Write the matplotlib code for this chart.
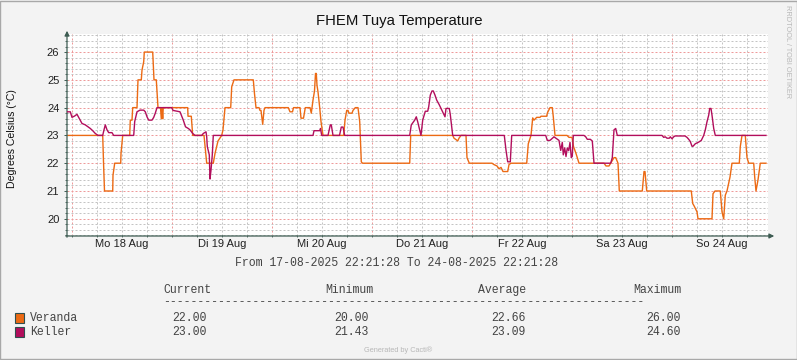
import matplotlib
matplotlib.use("Agg")
import matplotlib.pyplot as plt
from matplotlib.ticker import MultipleLocator
from matplotlib.patches import Rectangle

# time axis: hours since Mo 18 Aug 2025 00:00
veranda_h = [-1.2, 7.37, 7.56, 7.8, 9.77, 9.84, 10.25, 11.69, 11.76, 12.17, 13.85, 13.99, 14.4, 14.57,
             15.6, 15.84, 16.63, 16.8, 17.21, 17.35, 19.37, 19.68, 20.23, 20.64, 21.24, 21.43, 21.6,
             21.77, 21.9, 27.77, 27.84, 28.63, 28.97, 31.68, 32.33, 33.91, 34.32, 35.04, 35.93, 36.24,
             36.72, 38.09, 38.33, 38.88, 43.51, 43.8, 44.16, 44.88, 45.12, 45.36, 45.77, 46.08, 46.32,
             51.91, 52.32, 52.92, 53.16, 54.72, 54.96, 55.56, 55.99, 57.12, 57.43, 57.84, 58.2, 58.44,
             58.63, 58.8, 59.04, 59.45, 59.76, 60.24, 65.21, 65.52, 65.93, 66.24, 66.48, 67.2, 67.44,
             67.99, 68.64, 69.05, 69.43, 69.72, 81.05, 81.19, 81.29, 91.37, 91.68, 92.16, 92.57, 92.88,
             93.36, 94.56, 94.8, 95.35, 100.8, 101.28, 102.0, 102.48, 102.96, 103.44, 104.57, 104.88,
             105.36, 109.13, 109.51, 110.16, 110.57, 110.88, 111.53, 112.32, 112.56, 113.93, 114.07,
             114.72, 115.27, 115.51, 115.92, 118.8, 119.28, 120.0, 120.36, 120.96, 121.68, 127.68,
             128.16, 128.88, 129.29, 130.08, 130.49, 131.04, 131.35, 136.87, 137.28, 137.52, 137.93,
             148.63, 148.97, 149.35, 150.0, 150.24, 153.6, 153.84, 154.32, 155.59, 156.0, 156.41,
             156.79, 157.2, 157.92, 158.4, 160.15, 160.39, 160.8, 161.59, 162.0, 162.41, 163.61,
             163.85, 164.16, 164.64, 165.19, 166.56]
veranda_t = [23, 23, 22.05, 21, 21, 21.57, 22, 22, 22.35, 23, 23, 23.55, 23.55, 24,
             24, 25, 25, 25.35, 25.65, 26, 26, 25, 25, 24, 24, 23.6, 24,
             23.6, 24, 24, 23.69, 23.69, 23, 23, 22, 22, 22.35, 22.8, 23, 23.2,
             24, 24, 24.75, 25, 25, 24.5, 24, 24, 23.9, 23.9, 23.4, 23.9, 24,
             24, 23.85, 23.85, 24, 24, 23.62, 23.62, 24, 24, 23.8, 24.27, 24.6, 25.23,
             25.23, 24.8, 24.57, 24, 23.5, 23, 23, 23.55, 23.9, 23.9, 23.8, 23.8, 23.9,
             24, 24, 23.5, 22.05, 22, 22, 22.6, 23, 23, 22.9, 22.85, 22.8, 22.9,
             23, 23, 22.2, 22, 22, 21.95, 21.9, 21.8, 21.85, 21.7, 21.7, 21.95,
             22, 22, 22.7, 23, 23.63, 23.55, 23.65, 23.65, 23.69, 23.69, 23.8,
             24, 24, 23.67, 23, 23, 22.93, 22.93, 22.6, 22.35, 22, 22,
             21.9, 21.9, 22, 22.2, 22.2, 22, 21, 21, 21.7, 21.7, 21,
             21, 20.55, 20.45, 20.25, 20, 20, 20.9, 21, 21, 20.25, 20,
             20.85, 21, 21.5, 22, 22, 22.6, 23, 23, 22.2, 22, 22,
             21.5, 21, 21.4, 22, 22]

keller_h = [-1.2, -0.41, 0.0, 0.65, 1.2, 1.61, 1.99, 2.4, 3.19, 3.84, 4.39, 4.97, 5.59, 6.24, 7.37,
            7.68, 7.99, 8.4, 8.81, 9.6, 10.0, 14.81, 15.05, 15.6, 16.32, 17.21, 17.59, 18.0, 18.41,
            19.2, 19.61, 19.99, 20.4, 23.93, 24.24, 25.92, 26.4, 26.71, 27.24, 27.91, 28.32, 28.97,
            29.52, 31.13, 31.51, 32.16, 32.33, 32.47, 32.95, 33.12, 33.36, 33.67, 33.91, 57.84, 58.08,
            59.45, 59.64, 59.93, 61.44, 61.99, 62.23, 62.64, 64.2, 64.63, 65.04, 65.45, 81.05, 81.43,
            82.25, 82.63, 82.97, 83.35, 83.76, 84.17, 84.79, 85.37, 85.61, 85.99, 86.4, 86.71, 87.12,
            87.53, 88.15, 88.8, 89.21, 89.52, 89.76, 90.55, 90.79, 91.37, 103.75, 104.16, 104.57,
            105.19, 105.53, 113.69, 114.07, 114.72, 115.68, 116.33, 116.88, 117.29, 117.67, 117.91,
            118.25, 118.56, 118.87, 119.21, 119.52, 119.83, 120.07, 120.31, 122.88, 123.29, 123.67,
            124.39, 124.87, 125.28, 129.29, 129.67, 130.08, 130.49, 130.87, 141.6, 142.01, 142.39,
            142.8, 143.35, 143.59, 144.0, 144.41, 144.72, 147.12, 147.6, 148.01, 148.39, 148.8,
            149.04, 149.59, 150.41, 151.03, 151.61, 151.99, 152.4, 152.81, 153.05, 153.36, 153.6,
            154.01, 154.39, 166.56]
keller_t = [23.85, 23.85, 23.65, 23.7, 23.76, 23.65, 23.55, 23.43, 23.38, 23.31, 23.25, 23.17, 23.07, 23, 23,
            23.2, 23.38, 23.2, 23.1, 23.1, 23, 23, 23.5, 23.85, 23.91, 23.91, 23.85, 23.67, 23.55,
            23.55, 23.65, 23.8, 24, 24, 23.9, 23.85, 23.67, 23.55, 23.31, 23.25, 23.2, 23.07,
            23, 23, 23.07, 23.13, 22.95, 22.6, 22.3, 21.43, 21.75, 22.3, 23, 23, 23.17,
            23.17, 23.25, 23, 23, 23.38, 23.38, 23, 23, 23.3, 23.3, 23, 23, 23.38,
            23.55, 23.67, 23.49, 23.25, 23, 23.55, 23.87, 23.87, 24.03, 24.45, 24.6, 24.6, 24.45,
            24.27, 24.1, 23.9, 23.77, 23.67, 23.97, 23.97, 23.75, 23, 23, 22.47, 22.05,
            22.05, 23, 23, 22.82, 22.82, 22.95, 22.88, 22.82, 22.46, 22.75, 22.3,
            22.55, 22.24, 22.55, 22.45, 22.75, 22.2, 22.25, 23, 23, 22.95, 22.86,
            22.86, 22.8, 22, 22, 22.2, 23.2, 23.25, 23, 23, 22.93, 22.95,
            22.9, 22.9, 22.95, 22.88, 22.95, 22.98, 22.98, 22.93, 22.86, 22.78, 22.61,
            22.61, 22.7, 22.76, 22.82, 23, 23.2, 23.49, 23.73, 23.97, 23.97, 23.73,
            23.25, 23, 23]

day_labels = ["Mo 18 Aug", "Di 19 Aug", "Mi 20 Aug", "Do 21 Aug", "Fr 22 Aug", "Sa 23 Aug", "So 24 Aug"]
stat_names = ["Current", "Minimum", "Average", "Maximum"]
veranda_stats = ["22.00", "20.00", "22.66", "26.00"]
keller_stats = ["23.00", "21.43", "23.09", "24.60"]

W, H = 797, 360
c_ver = "#EC6A14"
c_kel = "#B20E5C"
c_axis = "#3D5C52"
sans = "Liberation Sans"
mono = "Liberation Mono"

def fx(x):
    return x / W

def fy(y):
    return 1 - y / H

fig = plt.figure(figsize=(W / 100, H / 100), dpi=100, facecolor="#F3F3F3")
ax = fig.add_axes([fx(67), fy(236), 701 / W, 202 / H])
ax.set_facecolor("white")

ax.plot(veranda_h, veranda_t, color=c_ver, lw=1.0, zorder=3)
ax.plot(keller_h, keller_t, color=c_kel, lw=1.0, zorder=4)

ax.set_xlim(-1.2, 167.04)
ax.set_ylim(19.38, 26.65)

# grid
ax.yaxis.set_major_locator(MultipleLocator(1))
ax.yaxis.set_minor_locator(MultipleLocator(0.2))
ax.set_xticks(list(range(0, 168, 24)))
ax.set_xticklabels([""] * 7)
minor_x = [h for h in range(6, 168, 6) if h % 24 != 0]
ax.set_xticks(minor_x, minor=True)
ax.set_xticklabels([day_labels[(h - 12) // 24] if h % 24 == 12 else "" for h in minor_x], minor=True)

ax.grid(which="minor", color="#C4C4C4", lw=0.72, ls=(0, (2, 2)))
ax.grid(which="major", color="#EE9A9A", lw=0.72, ls=(0, (2, 2)))
ax.set_axisbelow(True)

for s in ax.spines.values():
    s.set_visible(False)

ax.tick_params(axis="y", which="major", length=2.5, width=0.7, color=c_axis, pad=3,
               labelsize=8, labelcolor="#222222", direction="out")
ax.tick_params(axis="y", which="minor", length=1.2, width=0.6, color=c_axis, direction="out")
ax.tick_params(axis="x", which="both", length=2, width=0.6, color=c_axis, pad=1.5,
               labelsize=8, labelcolor="#222222", direction="inout")
for lab in ax.get_xticklabels(minor=True) + ax.get_yticklabels():
    lab.set_fontfamily(sans)

# axes with arrows
ax.annotate("", xy=(67, H - 28), xytext=(67, H - 240), xycoords="figure pixels",
            arrowprops=dict(arrowstyle="-|>", color=c_axis, lw=0.9, mutation_scale=7))
ax.annotate("", xy=(777, H - 236), xytext=(63, H - 236), xycoords="figure pixels",
            arrowprops=dict(arrowstyle="-|>", color=c_axis, lw=0.9, mutation_scale=7))

fig.text(fx(399), fy(21), "FHEM Tuya Temperature", ha="center", va="center",
         fontsize=10.7, family=sans, color="#111111")
fig.text(fx(12), fy(139), "Degrees Celsius (°C)", rotation=90, ha="center", va="center",
         fontsize=7.6, family=sans, color="#111111")
fig.text(fx(788), fy(5), "RRDTOOL / TOBI OETIKER", rotation=-90, ha="center", va="top",
         fontsize=5.3, family=sans, color="#B8B8B8")

fig.text(fx(397), fy(263), "From 17-08-2025 22:21:28 To 24-08-2025 22:21:28", ha="center", va="center",
         fontsize=8.3, family=mono, color="#444444")

# legend table
head_right = [211, 373, 526, 681]
for name, xr in zip(stat_names, head_right):
    fig.text(fx(xr), fy(290), name, ha="right", va="center", fontsize=8.3, family=mono, color="#444444")
fig.text(fx(163), fy(302), "-" * 70, ha="left", va="center", fontsize=8.3, family=mono, color="#444444")

rows = [("Veranda", c_ver, veranda_stats, 318), ("Keller", c_kel, keller_stats, 332)]
for name, col, vals, yy in rows:
    fig.patches.append(Rectangle((fx(15), fy(yy + 5)), 9 / W, 10 / H, transform=fig.transFigure,
                                 facecolor=col, edgecolor="#2F4F4F", lw=0.8))
    fig.text(fx(30), fy(yy), name, ha="left", va="center", fontsize=8.3, family=mono, color="#444444")
    for v, xr in zip(vals, [207, 369, 526, 681]):
        fig.text(fx(xr), fy(yy), v, ha="right", va="center", fontsize=8.3, family=mono, color="#444444")

fig.text(fx(398), fy(350), "Generated by Cacti®", ha="center", va="center",
         fontsize=5.3, family=sans, color="#B8B8B8")

fig.patches.append(Rectangle((0.0006, 0.0014), 0.9988, 0.9972, transform=fig.transFigure,
                             facecolor="none", edgecolor="#A8A8A8", lw=1.0))

fig.savefig("out.png", dpi=100, facecolor=fig.get_facecolor())
